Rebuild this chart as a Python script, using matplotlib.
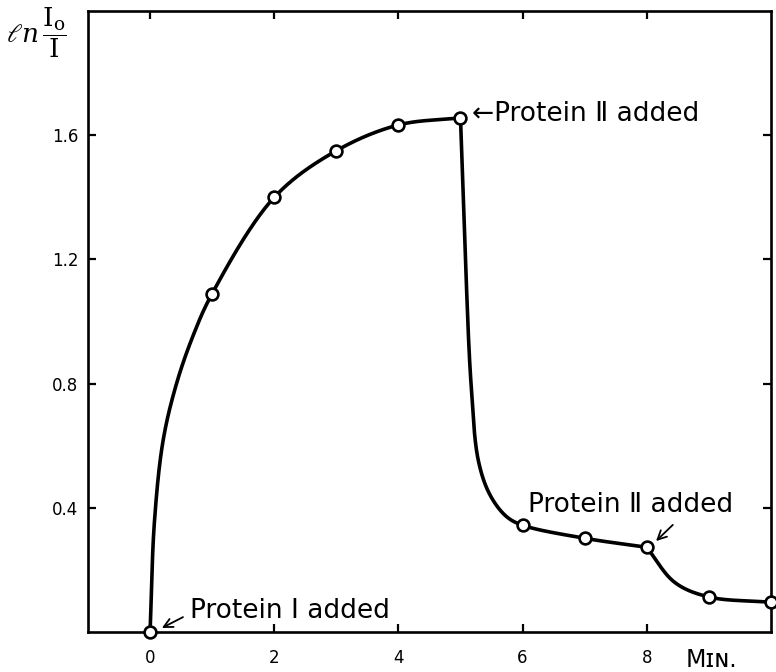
import numpy as np
import matplotlib
matplotlib.use("Agg")
import matplotlib.pyplot as plt

# Measured absorbance ln(I0/I) against time (minutes)
time_min = [0, 1, 2, 3, 4, 5, 6, 7, 8, 9, 10]
ln_ratio = [0.0, 1.09, 1.40, 1.55, 1.633, 1.656, 0.344, 0.302, 0.273, 0.113, 0.096]

# Extra points along the hand-drawn curve between readings
rise_t = [0.07, 0.21, 0.42, 0.69]
rise_y = [0.355, 0.617, 0.796, 0.953]
drop_t = [5.08, 5.17, 5.29, 5.48, 5.74]
drop_y = [1.20, 0.80, 0.550, 0.440, 0.372]
tail_t = [8.45]
tail_y = [0.160]

x_ticks = [0, 2, 4, 6, 8]
y_ticks = [0.4, 0.8, 1.2, 1.6]
y_tick_labels = ["0.4", "0.8", "1.2", "1.6"]

note_first = "Protein \u2160 added"
note_second = "\u2190Protein \u2161 added"
note_third = "Protein \u2161 added"


def catmull_rom(xs, ys, sx=62.2, sy=311.0, n=60):
    """Centripetal Catmull-Rom spline through the given points."""
    P = np.column_stack([np.asarray(xs) * sx, np.asarray(ys) * sy])
    P = np.vstack([2 * P[0] - P[1], P, 2 * P[-1] - P[-2]])
    out = []
    for i in range(1, len(P) - 2):
        p0, p1, p2, p3 = P[i - 1], P[i], P[i + 1], P[i + 2]
        t0 = 0.0
        t1 = t0 + np.linalg.norm(p1 - p0) ** 0.5
        t2 = t1 + np.linalg.norm(p2 - p1) ** 0.5
        t3 = t2 + np.linalg.norm(p3 - p2) ** 0.5
        t = np.linspace(t1, t2, n)[:, None]
        a1 = (t1 - t) / (t1 - t0) * p0 + (t - t0) / (t1 - t0) * p1
        a2 = (t2 - t) / (t2 - t1) * p1 + (t - t1) / (t2 - t1) * p2
        a3 = (t3 - t) / (t3 - t2) * p2 + (t - t2) / (t3 - t2) * p3
        b1 = (t2 - t) / (t2 - t0) * a1 + (t - t0) / (t2 - t0) * a2
        b2 = (t3 - t) / (t3 - t1) * a2 + (t - t1) / (t3 - t1) * a3
        c = (t2 - t) / (t2 - t1) * b1 + (t - t1) / (t2 - t1) * b2
        out.append(c)
    C = np.vstack(out)
    return C[:, 0] / sx, C[:, 1] / sy


def merge(ts, ys, gt, gy, lo, hi):
    pts = [(t, y) for t, y in zip(ts, ys) if lo <= t <= hi]
    pts += [(t, y) for t, y in zip(gt, gy) if lo < t < hi]
    pts.sort()
    return [p[0] for p in pts], [p[1] for p in pts]


fig = plt.figure(figsize=(7.76, 6.72), dpi=100)
ax = fig.add_axes([0.1134, 0.0595, 0.880, 0.9241])

guide_t = rise_t + drop_t + tail_t
guide_y = rise_y + drop_y + tail_y
for lo, hi in [(0, 5), (5, 8), (8, 10)]:
    st, sy = merge(time_min, ln_ratio, guide_t, guide_y, lo, hi)
    cx, cy = catmull_rom(st, sy)
    ax.plot(cx, cy, color="black", lw=2.6, solid_capstyle="round",
            solid_joinstyle="round", zorder=3, clip_on=False)

ax.plot(time_min, ln_ratio, linestyle="none", marker="o", ms=8.5,
        mfc="white", mec="black", mew=1.9, zorder=4, clip_on=False)

ax.set_xlim(-1, 10)
ax.set_ylim(0, 2.0)
ax.set_xticks(x_ticks)
ax.set_xticklabels([str(v) for v in x_ticks])
ax.set_yticks(y_ticks)
ax.set_yticklabels(y_tick_labels)
ax.tick_params(direction="in", length=6, width=1.6, top=True, right=True,
               labelsize=12, colors="black")
ax.tick_params(axis="x", pad=12)
ax.tick_params(axis="y", pad=7)
for s in ax.spines.values():
    s.set_linewidth(1.9)

txt_font = dict(fontsize=19, family=["DejaVu Sans"], color="black")
arrow_style = dict(arrowstyle="->", lw=1.3, color="black",
                   shrinkA=0, shrinkB=0, mutation_scale=16)

ax.text(0.64, 0.0675, note_first, ha="left", va="center", **txt_font)
ax.annotate("", xy=(0.19, 0.013), xytext=(0.53, 0.048),
            arrowprops=arrow_style)

ax.text(5.18, 1.669, note_second, ha="left", va="center", **txt_font)

ax.text(6.08, 0.41, note_third, ha="left", va="center", **txt_font)
ax.annotate("", xy=(8.15, 0.293), xytext=(8.42, 0.345),
            arrowprops=arrow_style)

fig.text(0.883, 0.0, "M\u026a\u0274.", fontsize=17, ha="left",
         va="bottom", color="black")
fig.text(0.008, 0.951, r"$\ell n\,\dfrac{\mathrm{I_o}}{\mathrm{I}}$",
         fontsize=19, ha="left", va="center", color="black",
         math_fontfamily="dejavuserif")

fig.savefig("out.png", dpi=100)
